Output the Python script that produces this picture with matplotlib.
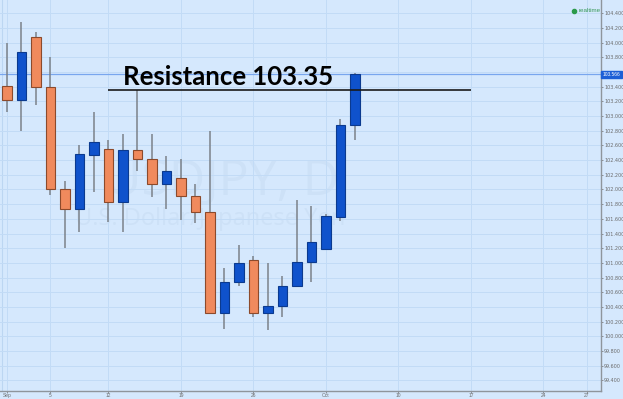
import numpy as np
import matplotlib.pyplot as plt
from matplotlib.ticker import FuncFormatter

# daily USDJPY candles
opens  = [103.41, 103.22, 104.07, 103.39, 102.00, 101.73, 102.47, 102.55, 101.83, 102.54,
          102.41, 102.07, 102.15, 101.91, 101.69, 100.32, 100.74, 101.04, 100.32, 100.42,
          100.69, 101.01, 101.19, 101.63, 102.88]
highs  = [104.00, 104.28, 104.14, 103.80, 102.12, 102.60, 103.06, 102.67, 102.75, 103.36,
          102.76, 102.46, 102.41, 102.07, 102.79, 100.93, 101.24, 101.09, 101.00, 100.82,
          101.85, 101.78, 101.67, 102.96, 103.59]
lows   = [103.06, 102.80, 103.15, 101.93, 101.20, 101.42, 101.96, 101.56, 101.42, 102.25,
          101.90, 101.74, 101.58, 101.54, 100.30, 100.10, 100.68, 100.26, 100.09, 100.26,
          100.67, 100.74, 101.18, 101.57, 102.67]
closes = [103.22, 103.87, 103.40, 102.00, 101.73, 102.48, 102.64, 101.83, 102.54, 102.41,
          102.07, 102.25, 101.91, 101.69, 100.32, 100.74, 101.00, 100.32, 100.42, 100.69,
          101.01, 101.28, 101.64, 102.88, 103.566]

tick_pos = [0, 3, 7, 12, 17, 22, 27, 32, 37, 40]
tick_lab = ['Sep', '5', '12', '19', '26', 'Oct', '10', '17', '24', '27']

last_price = 103.566
resistance = 103.35
res_from, res_to = 7, 32

bg = '#d5e8fd'
grid_c = '#c2dbf6'
up_c = '#0f52cc'
dn_c = '#f08a5d'
small = 'Liberation Sans'

fig = plt.figure(figsize=(6.23, 3.99), dpi=100, facecolor=bg)
ax = fig.add_axes([0, 8/399, 601/623, 391/399])
ax.set_facecolor(bg)

# watermark
ax.text(0.37, 0.535, 'USDJPY, D', transform=ax.transAxes, ha='center', va='center',
        fontsize=36, color='#cde1f7', family='Open Sans', zorder=0)
ax.text(0.35, 0.44, 'U.S. Dollar/Japanese Yen', transform=ax.transAxes, ha='center',
        va='center', fontsize=17, color='#cde1f7', family='Open Sans', zorder=0)

x = np.arange(len(opens))
o = np.array(opens); h = np.array(highs); l = np.array(lows); c = np.array(closes)
up = c >= o
cols = np.where(up, up_c, dn_c)
edges = np.where(up, '#0b3a8f', '#8c4a2c')

ax.vlines(x, l, h, color='#7b8189', lw=1.1, zorder=2)
ax.bar(x, np.abs(c - o), bottom=np.minimum(o, c), width=0.65, color=cols,
       edgecolor=edges, linewidth=0.8, zorder=3)

# last price line
ax.axhline(last_price, color='#78a6ee', lw=0.9, zorder=1)

# resistance
ax.hlines(resistance, res_from, res_to, color='#1a1a1a', lw=1.2, zorder=4)
ax.text(res_from + 1.0, resistance + 0.02, 'Resistance 103.35', fontsize=18.5,
        fontweight='bold', family='Lato', color='black', va='bottom', ha='left', zorder=5)

ax.set_xlim(-0.48, 40.97)
ax.set_ylim(99.256, 104.58)

ax.set_xticks(tick_pos)
ax.set_xticklabels(tick_lab, family=small)
ax.set_yticks(np.arange(99.4, 104.41, 0.2))
# the 103.600 label sits under the price box
ax.yaxis.set_major_formatter(FuncFormatter(
    lambda v, p: '' if abs(v - 103.6) < 0.01 else f'{v:.3f}'))
for t in ax.get_yticklabels():
    t.set_family(small)
ax.yaxis.tick_right()
ax.tick_params(axis='both', labelsize=3.5, colors='#6b6b6b', length=1.5, width=0.5, pad=0.8)
ax.tick_params(axis='x', length=1.2, pad=0.3)
ax.grid(True, color=grid_c, lw=0.7, zorder=0)
ax.set_axisbelow(True)

for s in ['top', 'left']:
    ax.spines[s].set_visible(False)
ax.spines['right'].set_color('#8e959c')
ax.spines['bottom'].set_color('#8e959c')
ax.spines['right'].set_linewidth(1.0)
ax.spines['bottom'].set_linewidth(1.0)
ax.axvline(-0.35, color='#bcd6f2', lw=0.8, zorder=0)

# price box on the right axis
ax.annotate(f'{last_price:.3f}', xy=(1.0, last_price), xycoords=('axes fraction', 'data'),
            xytext=(1.2, 0), textcoords='offset points', ha='left', va='center',
            fontsize=3.5, family=small, color='white', annotation_clip=False, zorder=6,
            bbox=dict(boxstyle='square,pad=0.3', fc='#1c5fd6', ec='#1c5fd6'))

# realtime marker
ax.plot([0.955], [0.972], 'o', ms=3, color='#2b9a4a', transform=ax.transAxes, clip_on=False)
ax.text(0.963, 0.972, 'realtime', transform=ax.transAxes, fontsize=4.5, family=small,
        color='#3a9a5a', va='center', ha='left')

fig.savefig('out.png', dpi=100, facecolor=bg)
